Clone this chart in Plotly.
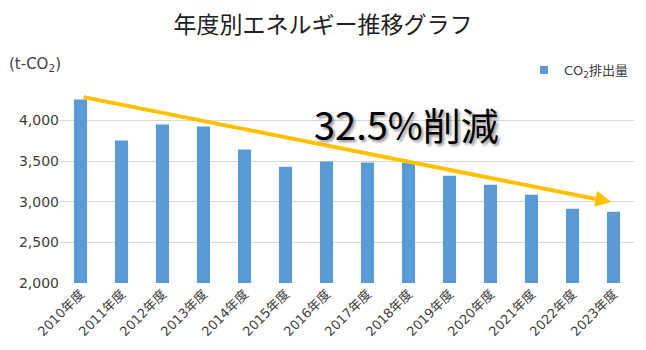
import plotly.graph_objects as go

years = ["2010年度", "2011年度", "2012年度", "2013年度", "2014年度", "2015年度", "2016年度",
         "2017年度", "2018年度", "2019年度", "2020年度", "2021年度", "2022年度", "2023年度"]
co2 = [4260, 3753, 3951, 3926, 3642, 3432, 3494, 3482, 3476, 3321, 3210, 3087, 2914, 2877]
tick_vals = [2000, 2500, 3000, 3500, 4000]
tick_text = ["2,000", "2,500", "3,000", "3,500", "4,000"]
arrow_start = (0.04, 4291)
arrow_end = (12.95, 2996)
reduction_label = "32.5%削減"

FONT = "DejaVu Sans, Noto Sans CJK JP"
CJK = "Noto Sans CJK JP"

fig = go.Figure()
fig.add_trace(go.Bar(
    x=list(range(len(years))), y=co2, name="CO<sub>2</sub>排出量",
    marker=dict(color="#5B9BD5", line=dict(width=0)), showlegend=False,
))
fig.add_trace(go.Scatter(
    x=[None], y=[None], mode="markers", name="CO<sub>2</sub>排出量",
    marker=dict(symbol="square", size=8, color="#5B9BD5"), showlegend=True,
))

fig.update_layout(
    width=646, height=350,
    margin=dict(l=60, r=12, t=88, b=67),
    paper_bgcolor="white", plot_bgcolor="white",
    font=dict(family=FONT, color="#404040", size=13),
    bargap=0.68,
    showlegend=True,
    legend=dict(x=1.0, y=1.092, xref="paper", yref="paper",
                xanchor="right", yanchor="middle",
                font=dict(size=13, color="#404040", family=FONT),
                itemwidth=30, bgcolor="rgba(0,0,0,0)"),
    title=dict(text="年度別エネルギー推移グラフ", x=0.5, xanchor="center",
               y=0.93, yanchor="middle", yref="container",
               font=dict(size=23, color="#202020", family=CJK)),
    xaxis=dict(
        tickmode="array", tickvals=list(range(len(years))), ticktext=years,
        tickangle=-45, tickfont=dict(size=13, color="#404040", family=FONT),
        range=[-0.5, len(years) - 0.5],
        showgrid=False, zeroline=False, showline=False, ticks="",
    ),
    yaxis=dict(
        range=[2000, 4400], tickmode="array", tickvals=tick_vals, ticktext=tick_text,
        showgrid=True, gridcolor="#D9D9D9", gridwidth=1,
        zeroline=False, showline=False, ticks="",
        tickfont=dict(size=14, color="#404040", family=FONT),
    ),
)

fig.add_annotation(
    text="(t-CO<sub>2</sub>)", xref="paper", yref="paper",
    x=-0.092, y=1.118, xanchor="left", yanchor="middle", showarrow=False,
    font=dict(size=15, color="#404040", family=FONT),
)

fig.add_annotation(
    x=arrow_end[0], y=arrow_end[1], ax=arrow_start[0], ay=arrow_start[1],
    xref="x", yref="y", axref="x", ayref="y",
    showarrow=True, arrowhead=2, arrowsize=0.8, arrowwidth=4, arrowcolor="#FFC000",
    text="",
)

fig.add_annotation(
    text=reduction_label, xref="paper", yref="paper",
    x=0.603, y=0.82, xanchor="center", yanchor="middle", showarrow=False,
    font=dict(size=38, color="#000000", family=CJK,
              shadow="2px 2px 3px rgba(0,0,0,0.45)"),
)

fig.write_html("out.html")
